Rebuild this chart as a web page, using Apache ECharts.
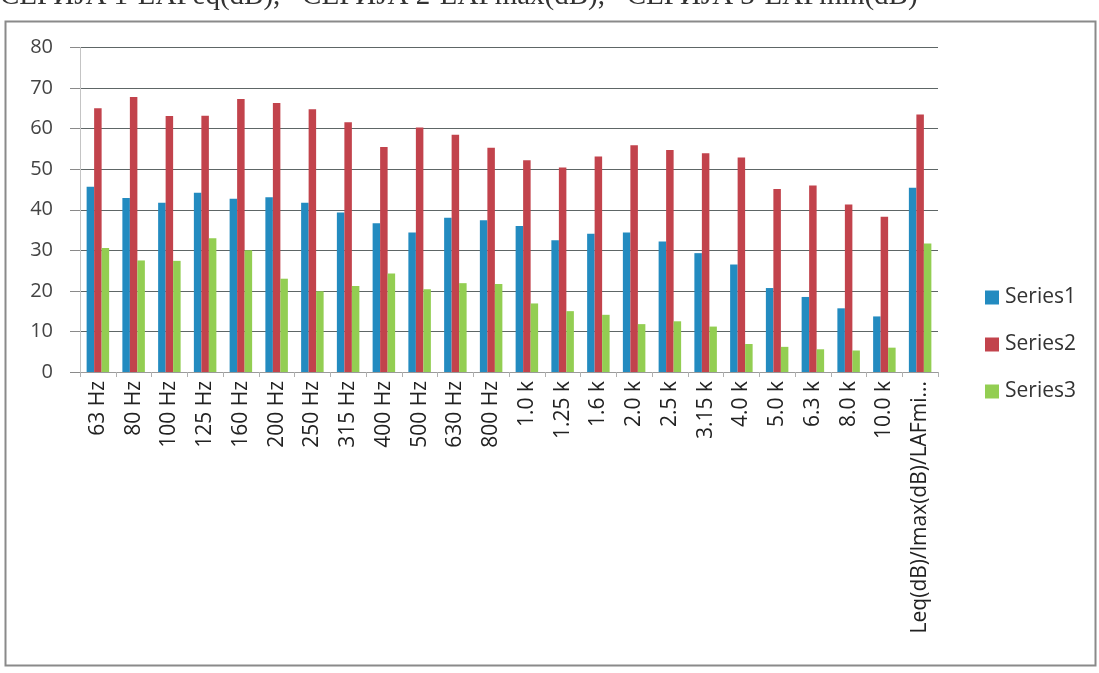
<!DOCTYPE html>
<html>
<head>
<meta charset="utf-8">
<script src="https://cdn.jsdelivr.net/npm/echarts@6/dist/echarts.min.js"></script>
<style>
html,body{margin:0;padding:0;background:#ffffff;}
#chart{width:1099px;height:673px;}
</style>
</head>
<body>
<div id="chart"></div>
<script>
var categories = ['63 Hz','80 Hz','100 Hz','125 Hz','160 Hz','200 Hz','250 Hz','315 Hz','400 Hz','500 Hz','630 Hz','800 Hz','1.0 k','1.25 k','1.6 k','2.0 k','2.5 k','3.15 k','4.0 k','5.0 k','6.3 k','8.0 k','10.0 k','Leq(dB)/lmax(dB)/LAFmin(dB)'];
var series1 = [45.7, 42.9, 41.7, 44.2, 42.7, 43.1, 41.7, 39.3, 36.7, 34.4, 38.0, 37.4, 36.0, 32.5, 34.1, 34.4, 32.2, 29.3, 26.5, 20.7, 18.5, 15.7, 13.7, 45.4];
var series2 = [65.0, 67.8, 63.1, 63.2, 67.3, 66.3, 64.8, 61.6, 55.5, 60.3, 58.5, 55.3, 52.2, 50.4, 53.1, 55.9, 54.7, 53.9, 52.9, 45.1, 46.0, 41.3, 38.3, 63.5];
var series3 = [30.6, 27.5, 27.4, 33.0, 30.0, 23.0, 19.9, 21.2, 24.3, 20.4, 21.9, 21.7, 16.9, 15.0, 14.1, 11.8, 12.5, 11.2, 6.9, 6.2, 5.6, 5.3, 6.0, 31.7];
var seriesNames = ['Series1', 'Series2', 'Series3'];
var yTicks = { min: 0, max: 80, interval: 10 };
var headerText = 'СЕРИЈА 1-LAFeq(dB),   СЕРИЈА 2-LAFmax(dB),   СЕРИЈА 3-LAFmin(dB)';

var colors = ['#238bc0', '#c2434c', '#93ce52'];
var font = "'Open Sans', 'Noto Sans', sans-serif";

var chart = echarts.init(document.getElementById('chart'), null, { renderer: 'canvas' });

function bar(name, data, color) {
  return {
    name: name,
    type: 'bar',
    data: data,
    barWidth: 7.5,
    barGap: '0%',
    itemStyle: { color: color },
    emphasis: { disabled: true }
  };
}

chart.setOption({
  backgroundColor: '#ffffff',
  animation: false,
  color: colors,
  graphic: [
    {
      type: 'rect',
      shape: { x: 5.5, y: 21.5, width: 1090, height: 644 },
      style: { fill: 'none', stroke: '#8a8a8a', lineWidth: 2 },
      z: -1
    },
    {
      type: 'text',
      x: 0,
      y: -4,
      style: {
        text: headerText,
        font: "29px 'Liberation Serif', serif",
        fill: '#333333',
        verticalAlign: 'middle'
      }
    }
  ],
  grid: { left: 80, right: 161, top: 47.5, bottom: 301, containLabel: false },
  legend: {
    orient: 'vertical',
    left: 980,
    top: 282,
    itemWidth: 14,
    itemHeight: 14,
    itemGap: 26,
    icon: 'rect',
    data: seriesNames,
    textStyle: { fontFamily: font, fontSize: 21, color: '#333333', lineHeight: 21, padding: [0, 0, 0, 1] }
  },
  xAxis: {
    type: 'category',
    data: categories,
    axisLine: { show: true, lineStyle: { color: '#9a9a9a', width: 1 } },
    axisTick: { show: true, length: 5, lineStyle: { color: '#b0b0b0' } },
    axisLabel: {
      rotate: 90,
      interval: 0,
      margin: 9,
      fontFamily: font,
      fontSize: 21,
      color: '#222222',
      width: 262,
      overflow: 'truncate',
      ellipsis: '...'
    },
    splitLine: { show: false }
  },
  yAxis: {
    type: 'value',
    min: yTicks.min,
    max: yTicks.max,
    interval: yTicks.interval,
    axisLine: { show: true, lineStyle: { color: '#c4c4c4', width: 1 } },
    axisTick: { show: true, length: 10, lineStyle: { color: '#8a8a8a' } },
    axisLabel: { margin: 27, fontFamily: font, fontSize: 20, color: '#444444' },
    splitLine: { show: true, lineStyle: { color: '#5e6666', width: 1 } }
  },
  series: [
    bar(seriesNames[0], series1, colors[0]),
    bar(seriesNames[1], series2, colors[1]),
    bar(seriesNames[2], series3, colors[2])
  ]
});
</script>
</body>
</html>
